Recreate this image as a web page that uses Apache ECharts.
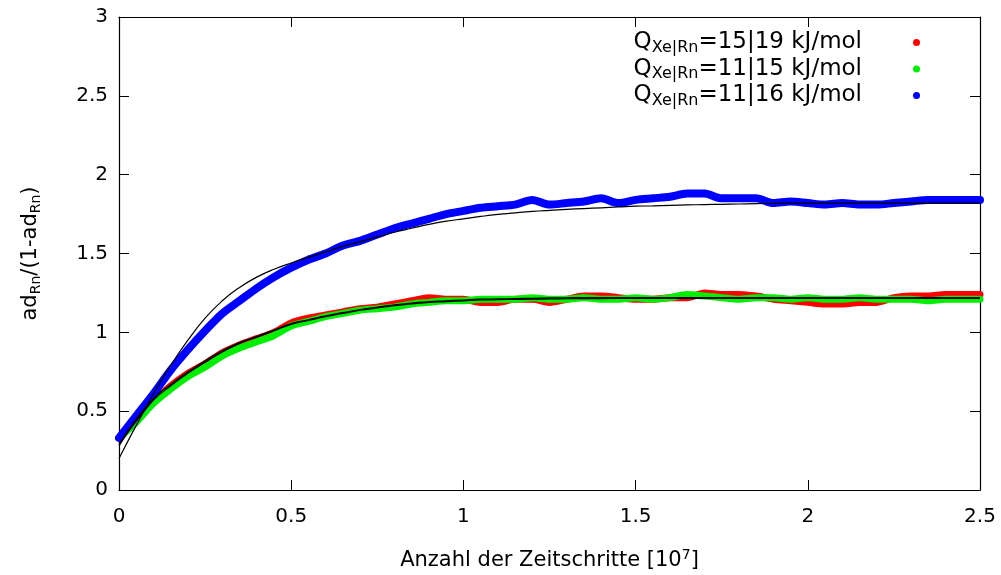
<!DOCTYPE html>
<html>
<head>
<meta charset="utf-8">
<script src="https://cdn.jsdelivr.net/npm/echarts@6/dist/echarts.min.js"></script>
<style>html,body{margin:0;padding:0;background:#fff}#c{width:1001px;height:575px}</style>
</head>
<body>
<div id="c"></div>
<script>
// x positions (units of 10^7 time steps)
var xs = [0,0.05,0.1,0.15,0.2,0.25,0.3,0.35,0.4,0.45,0.5,0.55,0.6,0.65,0.7,0.75,0.8,0.85,0.9,0.95,1.0,1.05,1.1,1.15,1.2,1.25,1.3,1.35,1.4,1.45,1.5,1.55,1.6,1.65,1.7,1.75,1.8,1.85,1.9,1.95,2.0,2.05,2.1,2.15,2.2,2.25,2.3,2.35,2.4,2.45,2.5];

var names = ['15|19', '11|15', '11|16'];

var redData = [0.33,0.44,0.56,0.66,0.74,0.80,0.87,0.92,0.96,1.00,1.06,1.09,1.11,1.13,1.15,1.16,1.18,1.20,1.22,1.21,1.21,1.19,1.19,1.21,1.21,1.19,1.21,1.23,1.23,1.22,1.21,1.21,1.22,1.22,1.25,1.24,1.24,1.23,1.21,1.20,1.19,1.18,1.18,1.19,1.19,1.22,1.23,1.23,1.24,1.24,1.24];
var greenData = [0.33,0.43,0.55,0.64,0.72,0.78,0.85,0.90,0.94,0.98,1.04,1.07,1.10,1.12,1.14,1.15,1.16,1.18,1.19,1.20,1.20,1.21,1.21,1.21,1.22,1.21,1.21,1.22,1.21,1.21,1.22,1.21,1.22,1.24,1.23,1.22,1.21,1.22,1.22,1.21,1.22,1.21,1.21,1.22,1.21,1.21,1.21,1.20,1.21,1.21,1.21];
var blueData = [0.33,0.47,0.61,0.76,0.89,1.01,1.12,1.20,1.28,1.35,1.41,1.46,1.50,1.55,1.58,1.62,1.66,1.69,1.72,1.75,1.77,1.79,1.80,1.81,1.84,1.81,1.82,1.83,1.85,1.82,1.84,1.85,1.86,1.88,1.88,1.85,1.85,1.85,1.82,1.83,1.82,1.81,1.82,1.81,1.81,1.82,1.83,1.84,1.84,1.84,1.84];

// fitted curves (black)
var redFit = [0.29,0.45,0.58,0.67,0.75,0.82,0.885,0.935,0.975,1.015,1.055,1.08,1.105,1.125,1.145,1.16,1.175,1.185,1.195,1.20,1.205,1.21,1.212,1.214,1.216,1.218,1.219,1.22,1.22,1.22,1.22,1.22,1.22,1.22,1.22,1.22,1.22,1.22,1.22,1.22,1.22,1.22,1.22,1.22,1.22,1.22,1.22,1.22,1.22,1.22,1.22];
var greenFit = [0.28,0.44,0.57,0.66,0.74,0.81,0.875,0.93,0.97,1.01,1.05,1.075,1.10,1.12,1.14,1.155,1.17,1.18,1.19,1.195,1.20,1.205,1.207,1.209,1.21,1.212,1.213,1.214,1.214,1.215,1.215,1.215,1.215,1.215,1.215,1.215,1.215,1.215,1.215,1.215,1.215,1.215,1.215,1.215,1.215,1.215,1.215,1.215,1.215,1.215,1.215];
var blueFit = [0.20,0.41,0.61,0.79,0.95,1.09,1.20,1.285,1.35,1.40,1.44,1.475,1.51,1.545,1.575,1.605,1.635,1.66,1.685,1.705,1.72,1.735,1.748,1.758,1.767,1.774,1.78,1.785,1.79,1.795,1.80,1.802,1.805,1.808,1.81,1.812,1.814,1.816,1.818,1.82,1.82,1.82,1.82,1.82,1.82,1.82,1.82,1.82,1.82,1.82,1.82];

var xTicks = [0, 0.5, 1, 1.5, 2, 2.5];
var yTicks = [0, 0.5, 1, 1.5, 2, 2.5, 3];

function pairs(ys){ return xs.map(function(x,i){ return [x, ys[i]]; }); }

var FONT = 'DejaVu Sans';
var chart = echarts.init(document.getElementById('c'), null, {renderer:'canvas'});

function dataSeries(name, color, ys, w){
  return {name:name, type:'line', data:pairs(ys), showSymbol:false, smooth:0.3,
    lineStyle:{color:color, width:w, cap:'round', join:'round'}, itemStyle:{color:color, borderColor:color},
    emphasis:{disabled:true}, silent:true, animation:false};
}
function fitSeries(ys){
  return {name:'fit', type:'line', data:pairs(ys), showSymbol:false, smooth:true,
    lineStyle:{color:'#000', width:1.2}, emphasis:{disabled:true}, silent:true, animation:false, z:5};
}

var axisLineStyle = {onZero:false, lineStyle:{color:'#000', width:1.2}};
var tickStyle = {inside:true, length:10, lineStyle:{color:'#000', width:1}};

var option = {
  animation:false,
  backgroundColor:'#fff',
  textStyle:{fontFamily:FONT},
  grid:{left:119, top:17, right:21, bottom:85, containLabel:false, outerBoundsMode:'none'},
  legend:{
    data:names.map(function(n){return 'Q'+n;}),
    orient:'vertical', align:'right', right:76, top:26, itemGap:2,
    icon:'circle', itemWidth:7, itemHeight:7,
    formatter:function(n){ return '{a|Q}{b|Xe|Rn}{a|=' + n.slice(1) + ' kJ/mol}{p|}'; },
    textStyle:{fontFamily:FONT, color:'#000',
      rich:{
        a:{fontFamily:FONT, fontSize:23, lineHeight:26, color:'#000'},
        b:{fontFamily:FONT, fontSize:16, lineHeight:16, verticalAlign:'bottom', color:'#000'},
        p:{width:46}
      }}
  },
  xAxis:[{
    type:'value', min:0, max:2.5, interval:0.5, position:'bottom',
    name:'Anzahl der Zeitschritte [10{s|7}]', nameLocation:'middle', nameGap:58,
    nameTextStyle:{fontFamily:FONT, fontSize:21, color:'#000',
      rich:{s:{fontFamily:FONT, fontSize:14, verticalAlign:'top', color:'#000', padding:[0,0,12,0]}}},
    axisLine:axisLineStyle, axisTick:tickStyle, splitLine:{show:false},
    axisLabel:{fontFamily:FONT, fontSize:20, color:'#000', margin:17}
  },{
    type:'value', min:0, max:2.5, interval:0.5, position:'top',
    axisLine:axisLineStyle, axisTick:tickStyle, splitLine:{show:false}, axisLabel:{show:false}
  }],
  yAxis:[{
    type:'value', min:0, max:3, interval:0.5, position:'left',
    name:'ad{s|Rn}/(1-ad{s|Rn})', nameLocation:'middle', nameGap:76,
    nameTextStyle:{fontFamily:FONT, fontSize:21, color:'#000',
      rich:{s:{fontFamily:FONT, fontSize:14, verticalAlign:'bottom', color:'#000', padding:[10,0,0,0]}}},
    axisLine:axisLineStyle, axisTick:tickStyle, splitLine:{show:false},
    axisLabel:{fontFamily:FONT, fontSize:20, color:'#000', margin:11}
  },{
    type:'value', min:0, max:3, interval:0.5, position:'right',
    axisLine:axisLineStyle, axisTick:tickStyle, splitLine:{show:false}, axisLabel:{show:false}
  }],
  series:[
    dataSeries('Q'+names[0], '#ff0000', redData, 7),
    dataSeries('Q'+names[1], '#00ee00', greenData, 7),
    dataSeries('Q'+names[2], '#0000ff', blueData, 8),
    fitSeries(redFit),
    fitSeries(greenFit),
    fitSeries(blueFit)
  ]
};
chart.setOption(option);
</script>
</body>
</html>
